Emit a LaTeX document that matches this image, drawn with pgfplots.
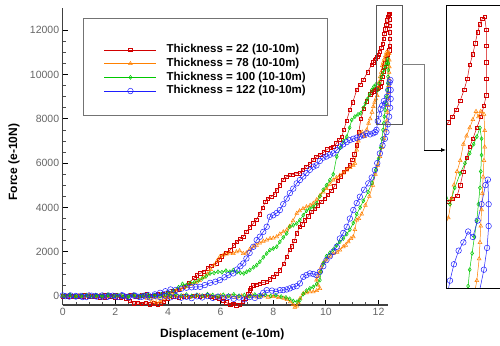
\documentclass[border=0pt]{standalone}
\usepackage{fontspec}
\setmainfont{Liberation Sans}
\usepackage{pgfplots}
\usepackage{pgfplotstable}
\pgfplotsset{compat=1.18}
\usetikzlibrary{arrows.meta,calc}
\definecolor{cred}{RGB}{210,0,0}
\definecolor{corange}{RGB}{255,128,0}
\definecolor{cgreen}{RGB}{0,200,0}
\definecolor{cblue}{RGB}{30,30,255}

\pgfplotstableread{
x y
0.00 30
0.20 -40
0.40 20
0.60 -30
0.80 50
1.00 -20
1.20 10
1.40 -60
1.60 40
1.80 -10
2.00 60
2.20 -30
2.40 20
2.60 70
2.80 -20
3.00 40
3.20 90
3.40 30
3.60 110
3.80 80
4.00 150
4.20 240
4.40 300
4.60 420
4.80 600
5.00 820
5.10 950
5.22 1025
5.35 1100
5.50 1250
5.65 1380
5.85 1475
5.95 1650
6.05 1800
6.20 1950
6.36 2077
6.50 2300
6.62 2450
6.75 2580
6.86 2680
6.98 2900
7.10 3100
7.24 3280
7.35 3450
7.48 3700
7.60 4000
7.70 4250
7.80 4400
7.92 4480
8.05 4600
8.13 4785
8.25 5000
8.38 5250
8.50 5380
8.63 5463
8.75 5480
8.88 5520
9.01 5540
9.12 5700
9.25 5850
9.38 5950
9.52 6140
9.64 6290
9.78 6380
9.92 6500
10.05 6620
10.18 6700
10.28 6740
10.40 6900
10.50 7050
10.60 7190
10.68 7500
10.78 7900
10.91 8400
11.02 8750
11.17 9300
11.30 9550
11.42 9750
11.58 10100
11.73 10430
11.80 10550
11.85 10650
11.90 10720
11.95 10800
12.00 10900
12.05 11030
12.10 11200
12.15 11400
12.19 11600
12.22 11850
12.26 12050
12.29 12250
12.32 12450
12.35 12600
12.38 12700
12.41 12730
12.43 12500
12.43 12200
12.43 11900
12.43 11600
12.43 11300
12.40 11100
12.36 10900
12.31 10700
12.26 10500
12.22 10350
12.18 10150
12.14 9900
12.10 9650
12.06 9450
12.00 9400
11.95 9350
11.88 9300
11.82 9250
11.75 9200
11.68 9100
11.55 8800
11.43 8450
11.33 8000
11.25 7400
11.17 6800
11.08 6400
11.00 6150
10.90 5900
10.79 5750
10.68 5600
10.56 5400
10.45 5200
10.32 4950
10.20 4750
10.08 4580
9.95 4400
9.82 4250
9.70 4100
9.58 3950
9.45 3800
9.33 3600
9.20 3420
9.10 3250
9.01 3130
8.89 2830
8.80 2500
8.70 2250
8.63 2080
8.51 1775
8.40 1450
8.25 1170
8.12 1000
8.00 870
7.87 760
7.75 650
7.62 620
7.49 560
7.36 520
7.24 500
7.15 350
7.11 270
7.05 100
6.95 -100
6.85 -250
6.72 -380
6.60 -420
6.48 -350
6.36 -400
6.22 -280
6.10 -200
5.95 -120
5.80 -60
5.60 -20
5.40 20
5.20 -30
5.00 10
4.80 -40
4.60 0
4.40 -60
4.20 -20
4.00 -100
3.85 -250
3.72 -340
3.60 -370
3.45 -330
3.30 -360
3.15 -300
3.00 -340
2.85 -300
2.70 -320
2.55 -200
2.40 -120
2.20 -60
2.00 -80
1.80 -20
1.60 -50
1.40 10
1.20 -30
1.00 20
0.80 -40
0.60 10
0.40 -20
0.20 0
0.00 -10
}\redtab

\pgfplotstableread{
x y
0.00 -20
0.25 30
0.50 -40
0.75 10
1.00 40
1.25 -30
1.50 20
1.75 -20
2.00 30
2.25 -50
2.50 10
2.75 -30
3.00 20
3.20 -100
3.40 -220
3.55 -300
3.70 -250
3.85 -120
4.00 50
4.15 150
4.30 230
4.45 300
4.60 380
4.75 450
4.90 520
5.05 600
5.20 700
5.35 850
5.50 1000
5.62 1200
5.75 1400
5.87 1600
5.97 1775
6.10 1850
6.22 1900
6.35 1950
6.48 1925
6.60 2000
6.72 2050
6.86 1925
6.98 1950
7.10 2100
7.24 2226
7.36 2300
7.48 2400
7.62 2480
7.75 2530
7.88 2600
8.00 2620
8.13 2680
8.25 2800
8.38 2900
8.51 2980
8.62 3150
8.75 3400
8.89 3733
9.00 3850
9.13 3950
9.26 4030
9.40 4100
9.52 4185
9.65 4350
9.78 4550
9.90 4700
10.02 4850
10.15 5050
10.28 5237
10.40 5350
10.53 5450
10.66 5550
10.79 5690
10.92 5800
11.04 5900
11.10 5990
11.17 6590
11.23 7000
11.29 7345
11.38 7400
11.47 7200
11.55 7500
11.62 7800
11.68 8000
11.75 8300
11.80 8550
11.85 8750
11.90 8900
11.95 9050
11.99 9400
12.02 9650
12.06 9900
12.10 10100
12.14 10400
12.18 10550
12.22 10700
12.26 10850
12.30 11000
12.33 10900
12.36 11000
12.40 10950
12.41 10650
12.41 10350
12.40 10100
12.39 9800
12.38 9500
12.37 9200
12.36 8900
12.35 8600
12.34 8300
12.31 7900
12.26 7500
12.20 7100
12.13 6700
12.05 6300
11.97 5900
11.88 5500
11.78 5000
11.65 4500
11.50 4100
11.36 3700
11.25 3500
11.17 3430
11.10 3000
11.04 2680
10.95 2600
10.85 2450
10.75 2300
10.66 2226
10.53 2077
10.42 1980
10.28 1925
10.15 1800
10.02 1625
9.90 1500
9.82 1300
9.77 1100
9.70 900
9.64 722
9.70 500
9.77 346
9.65 250
9.52 195
9.39 195
9.26 150
9.14 120
9.02 -100
8.95 -300
8.89 -450
8.82 -500
8.76 -380
8.65 -250
8.52 -150
8.40 -100
8.20 -60
8.00 -20
7.80 -50
7.60 10
7.40 -40
7.20 20
7.00 -30
6.80 10
6.60 -50
6.40 0
6.20 -40
6.00 20
5.80 -30
5.60 10
5.40 -20
5.20 30
5.00 -10
4.80 -50
4.60 0
4.40 -30
4.20 20
4.00 -60
3.80 -20
3.60 -80
3.40 -40
3.20 -20
3.00 10
2.80 -30
2.60 20
2.40 -10
2.20 30
2.00 -20
1.80 10
1.60 -30
1.40 20
1.20 -10
1.00 30
0.80 -20
0.60 10
0.40 -30
0.20 20
0.00 0
}\orangetab

\pgfplotstableread{
x y
0.00 20
0.25 60
0.50 0
0.75 40
1.00 -10
1.25 50
1.50 20
1.75 60
2.00 10
2.25 50
2.50 -20
2.75 40
3.00 10
3.25 60
3.50 30
3.75 80
4.00 150
4.20 250
4.40 400
4.55 550
4.70 500
4.85 600
5.00 620
5.15 700
5.30 800
5.45 900
5.60 1025
5.75 1050
5.90 1100
6.05 1080
6.20 1150
6.35 1100
6.48 1174
6.62 1080
6.75 1050
6.88 1025
6.99 1100
7.11 1174
7.25 1300
7.37 1400
7.49 1550
7.62 1750
7.75 1925
7.87 2077
8.00 2150
8.13 2226
8.25 2450
8.38 2650
8.51 2830
8.63 3130
8.76 3200
8.89 3280
9.01 3430
9.14 3650
9.26 3850
9.39 3950
9.52 4032
9.64 4180
9.77 4500
9.90 4800
10.02 5000
10.15 5237
10.28 5500
10.41 6290
10.55 6700
10.67 7000
10.79 7190
10.90 7600
10.98 7950
11.10 8100
11.22 8200
11.32 8250
11.42 8500
11.50 8700
11.58 8900
11.66 9100
11.74 9300
11.82 9450
11.90 9550
11.97 9300
12.03 9600
12.10 9866
12.16 10050
12.22 10233
12.27 10400
12.31 10537
12.35 10700
12.37 10500
12.37 10200
12.36 9900
12.35 9600
12.33 9300
12.31 9000
12.28 8700
12.25 8400
12.22 8100
12.20 7800
12.17 7500
12.13 7100
12.08 6700
12.00 6200
11.90 5700
11.75 5100
11.60 4700
11.42 4300
11.30 4000
11.17 3700
11.04 3300
10.91 3000
10.79 2800
10.66 2600
10.53 2450
10.41 2300
10.28 2100
10.15 1950
10.02 1800
9.90 1476
9.82 1100
9.77 722
9.65 550
9.52 420
9.39 350
9.26 250
9.14 100
9.01 -180
8.90 -250
8.76 -220
8.62 -120
8.48 -60
8.30 -20
8.10 40
7.90 10
7.70 60
7.50 20
7.30 70
7.10 0
6.90 50
6.70 20
6.50 80
6.30 30
6.10 60
5.90 0
5.70 50
5.50 90
5.30 20
5.10 60
4.90 10
4.70 70
4.50 30
4.30 80
4.10 20
3.90 60
3.70 0
3.50 50
3.30 -20
3.10 40
2.90 0
2.70 60
2.50 10
2.30 -30
2.10 40
1.90 0
1.70 60
1.50 -10
1.30 30
1.10 -20
0.90 50
0.70 10
0.50 -30
0.30 40
0.10 0
}\greentab

\pgfplotstableread{
x y
0.00 30
0.25 -20
0.50 10
0.75 -40
1.00 30
1.25 0
1.50 -30
1.75 20
2.00 -10
2.25 40
2.50 -20
2.75 20
3.00 -30
3.25 40
3.50 80
3.70 150
3.90 220
4.10 300
4.30 280
4.50 330
4.70 380
4.90 400
5.05 420
5.22 420
5.40 500
5.60 600
5.80 650
5.97 722
6.15 850
6.30 950
6.48 1025
6.62 1200
6.75 1350
6.86 1475
6.98 1700
7.10 1950
7.24 2226
7.37 2530
7.49 2680
7.62 2900
7.75 3130
7.87 3580
8.00 3650
8.13 3750
8.25 3883
8.38 4150
8.51 4400
8.63 4650
8.76 4850
8.89 5087
9.01 5237
9.14 5400
9.26 5550
9.39 5700
9.52 5840
9.64 5900
9.77 6100
9.90 6250
10.02 6300
10.15 6380
10.28 6440
10.41 6591
10.54 6750
10.66 6850
10.79 6950
10.91 7040
11.04 7100
11.17 7150
11.29 7193
11.42 7250
11.55 7345
11.68 7300
11.80 7350
11.88 7400
11.92 7500
11.97 7900
12.02 8200
12.08 8450
12.14 8600
12.20 8800
12.26 8700
12.32 9000
12.37 9300
12.42 9650
12.45 9750
12.46 9300
12.46 8900
12.44 8500
12.40 8100
12.35 7750
12.30 7400
12.24 7100
12.15 6800
12.05 6440
11.95 6000
11.86 5689
11.74 5350
11.61 5087
11.45 4800
11.29 4483
11.17 4200
11.04 3883
10.91 3500
10.79 3130
10.66 2850
10.53 2600
10.41 2226
10.28 2000
10.15 1800
10.02 1625
9.90 1350
9.77 1100
9.64 950
9.52 1000
9.39 1025
9.26 950
9.14 870
9.01 573
8.89 450
8.76 420
8.63 350
8.51 300
8.38 271
8.25 270
8.10 200
7.95 250
7.75 270
7.62 150
7.49 0
7.30 -80
7.10 -40
6.90 -150
6.70 -60
6.50 -120
6.30 -30
6.10 -90
5.90 -20
5.70 -80
5.50 0
5.30 -60
5.10 -10
4.90 -90
4.70 -30
4.50 -70
4.30 0
4.10 -50
3.90 20
3.70 -40
3.50 10
3.30 -60
3.10 20
2.90 -30
2.70 30
2.50 -50
2.30 10
2.10 -40
1.90 20
1.70 -30
1.50 30
1.30 -20
1.10 20
0.90 -40
0.70 10
0.50 -20
0.30 30
0.10 0
}\bluetab

\pgfplotsset{
  redstyle/.style={cred, line width=0.5pt, mark=square, mark size=1.7pt, mark options={solid, line width=0.5pt}},
  orangestyle/.style={corange, line width=0.5pt, mark=triangle, mark size=2.2pt, mark options={solid, line width=0.5pt}},
  greenstyle/.style={cgreen, line width=0.5pt, mark=diamond, mark size=2.0pt, mark options={solid, line width=0.5pt}},
  bluestyle/.style={cblue, line width=0.5pt, mark=o, mark size=2.8pt, mark options={solid, line width=0.5pt}},
}

\begin{document}
\begin{tikzpicture}[x=1pt,y=1pt]
\begin{axis}[
  name=main,
  scale only axis, width=325.6pt, height=297pt,
  xmin=0, xmax=12.37, ymin=-400, ymax=13000,
  axis x line=bottom, axis y line=left,
  axis line style={-, draw=black!75, line width=1.4pt},
  xtick={0,2,...,12}, ytick={0,2000,4000,6000,8000,10000,12000},
  scaled y ticks=false, scaled x ticks=false,
  minor x tick num=3, minor y tick num=3,
  tick align=inside,
  major tick length=5pt, minor tick length=3pt,
  major tick style={black, line width=0.9pt},
  minor tick style={black!70, line width=0.6pt},
  tick label style={font=\fontsize{10.5}{12}\selectfont, text=black!60},
  /pgf/number format/assume math mode=true,
  /pgf/number format/1000 sep={},
  xlabel={Displacement (e-10m)},
  ylabel={Force (e-10N)},
  label style={font=\fontsize{12}{14}\selectfont\bfseries},
  xlabel style={at={(axis description cs:0.49,-0.0976)}, anchor=center},
  ylabel style={at={(axis description cs:-0.1496,0.481)}, anchor=center},
  clip=false,
  legend cell align=left,
  legend style={at={(axis description cs:0.0623,0.9512)}, anchor=north west,
    draw=none, fill=none,
    font=\fontsize{11.5}{13}\selectfont\bfseries,
    inner xsep=21pt, inner ysep=22pt, row sep=3.2pt, column sep=10pt,
    nodes={inner sep=0pt, text height=8pt, text depth=2.5pt}},
  legend image code/.code={\draw[mark repeat=2,mark phase=2,#1] plot coordinates {(0pt,0pt) (26pt,0pt) (52pt,0pt)};},
]
\addplot[redstyle] table {\redtab};
\addlegendentry{Thickness = 22 (10-10m)}
\addplot[orangestyle] table {\orangetab};
\addlegendentry{Thickness = 78 (10-10m)}
\addplot[greenstyle] table {\greentab};
\addlegendentry{Thickness = 100 (10-10m)}
\addplot[bluestyle] table {\bluetab};
\addlegendentry{Thickness = 122 (10-10m)}
\coordinate (O) at (axis cs:0,-400);
\end{axis}

\pgfresetboundingbox
\useasboundingbox ($(O)+(-62.7,-40)$) rectangle ($(O)+(437.3,305)$);

\begin{axis}[
  at={($(O)+(383.3,17)$)}, anchor=south west,
  scale only axis, width=54pt, height=283pt,
  xmin=11.92, xmax=12.604, ymin=7765, ymax=12950,
  hide axis, clip=true,
]
\addplot[redstyle] table {\redtab};
\addplot[orangestyle] table {\orangetab};
\addplot[greenstyle] table {\greentab};
\addplot[bluestyle] table {\bluetab};
\coordinate (I) at (axis cs:11.92,7765);
\end{axis}

\draw[black, line width=0.8pt] ($(I)+(54,283)$) -- ($(I)+(0,283)$) -- (I) -- ($(I)+(54,0)$);
\begin{scope}[shift={(O)}]
\draw[black!55, line width=0.8pt] (20.3,190) rectangle (264.3,287);
\draw[black!65, line width=0.8pt] (314,181) rectangle (339.6,300);
\draw[black!50, line width=0.8pt] (339.6,241) -- (361.3,241) -- (361.3,155);
\draw[black, line width=0.8pt, -{Latex[length=5pt,width=4pt]}] (361.3,155) -- (383.3,155);
\end{scope}
\end{tikzpicture}
\end{document}
